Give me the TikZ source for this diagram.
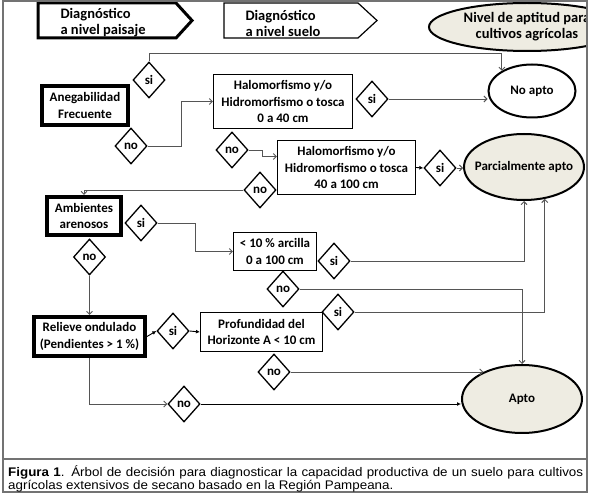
\documentclass[tikz,border=0pt]{standalone}
\usepackage{fontspec}
\setmainfont{Carlito}
\newfontfamily\capfont{Liberation Sans}[FakeStretch=1.07]
\usepackage{tikz}
\usetikzlibrary{arrows.meta, positioning, shapes, calc}

\definecolor{beige}{RGB}{238,236,226}
\definecolor{linkgray}{RGB}{85,85,85}

\tikzset{
  txt/.style={font=\fontsize{13}{16.5}\selectfont\bfseries, align=center},
  hdr/.style={font=\fontsize{14.5}{16}\selectfont\bfseries},
  box/.style={txt, draw, line width=1.2pt, fill=white, inner sep=2pt},
  mainbox/.style={box, line width=4pt},
  dec/.style={txt, diamond, draw, line width=1.3pt, fill=white, inner sep=0pt, minimum width=32pt, minimum height=36pt},
  result/.style={txt, ellipse, draw, line width=2pt, fill=beige, inner sep=0pt},
  link/.style={draw=linkgray, line width=0.9pt, -{Straight Barb[length=3pt,width=6pt]}},
  stub/.style={draw=black, line width=0.9pt, -{Latex[length=4pt,width=4pt]}},
}

\begin{document}
\begin{tikzpicture}[x=1pt, y=-1pt]
    \useasboundingbox (0,0) rectangle (590,497);

    % Headers
    \draw[line width=3pt] (38,3) -- (176,3) -- (192,20.5) -- (176,38) -- (38,38) -- cycle;
    \node[hdr, align=left, anchor=west] (paisaje) at (57,23) {Diagnóstico\\a nivel paisaje};
    \draw[line width=1.2pt] (224,3) -- (358,3) -- (377,20.5) -- (358,38) -- (224,38) -- cycle;
    \node[hdr, align=left, anchor=west] (suelo) at (242,23) {Diagnóstico\\a nivel suelo};
    \begin{scope}
        \clip (3,1) rectangle (587,459);
        \node[result, hdr, align=center, minimum width=196pt, minimum height=48pt] (nivel) at (527,27) {Nivel de aptitud para\\cultivos agrícolas};
    \end{scope}

    % Paisaje
    \node[mainbox, minimum width=86pt, minimum height=39pt] (aneg) at (85,105.5) {Anegabilidad\\Frecuente};
    \node[mainbox, minimum width=74pt, minimum height=38pt] (aren) at (84,216) {Ambientes\\arenosos};
    \node[mainbox, minimum width=111pt, minimum height=39pt] (relieve) at (89.5,336.5) {Relieve ondulado\\(Pendientes > 1 \%)};

    % Suelo
    \node[box, minimum width=139pt, minimum height=54pt] (halo1) at (283,101.5) {Halomorfismo y/o\\Hidromorfismo o tosca\\0 a 40 cm};
    \node[box, minimum width=138pt, minimum height=54pt] (halo2) at (346.5,167.5) {Halomorfismo y/o\\Hidromorfismo o tosca\\40 a 100 cm};
    \node[box, minimum width=83pt, minimum height=38pt] (arcilla) at (275,251.5) {< 10 \% arcilla\\0 a 100 cm};
    \node[box, minimum width=122pt, minimum height=39pt] (prof) at (261.5,332) {Profundidad del\\Horizonte A < 10 cm};

    % Aptitud
    \node[result, fill=white, minimum width=87pt, minimum height=53pt] (noapto) at (532,91) {No apto};
    \node[result, inner xsep=-12pt, minimum width=120pt, minimum height=66pt] (parcial) at (524,167) {Parcialmente apto};
    \node[result, minimum width=120pt, minimum height=68pt] (apto) at (522,399) {Apto};

    % Decisiones
    \node[dec] (siAneg) at (149,80) {si};
    \node[dec] (noAneg) at (131,146) {no};
    \node[dec] (siHalo1) at (372,99) {si};
    \node[dec] (noHalo1) at (232,150) {no};
    \node[dec] (siHalo2) at (440,168) {si};
    \node[dec] (noHalo2) at (260,190) {no};
    \node[dec] (siAren) at (141,223) {si};
    \node[dec] (noAren) at (89.5,257) {no};
    \node[dec] (siArc) at (334,261) {si};
    \node[dec] (noArc) at (283,289) {no};
    \node[dec] (siProf) at (338,312) {si};
    \node[dec] (siRel) at (173,331) {si};
    \node[dec] (noProf) at (274,372) {no};
    \node[dec] (noRel) at (184,404) {no};

    % Conexiones
    \draw[link] (siAneg.north) -- ++(0,-8) -| (noapto.146);
    \draw[link] (noAneg.east) -- ++(34,0) |- (halo1.west);
    \draw[link] (siHalo1.east) -- (siHalo1.east -| noapto.west);
    \draw[link] (noHalo1.east) -- ++(14,0) |- ($(halo2.west)+(0,-11)$);
    \draw[stub] (halo2.east) -- (siHalo2.west);
    \draw[link] (siHalo2.east) -- (siHalo2.east -| parcial.west);
    \draw[link] (noHalo2.west) -| (aren.north);
    \draw[link] (siAren.east) -- ++(38,0) |- (arcilla.west);
    \draw[link] (noAren.south) -- (relieve.north);
    \draw[link] (siArc.east) -| (parcial.south);
    \draw[link] (noArc.east) -| (apto.north);
    \draw[link] (siProf.east) -| (parcial.-57);
    \draw[stub] (relieve.east) -- (siRel.west);
    \draw[stub] (siRel.east) -- (prof.west);
    \draw[link] (noProf.east) -- (noProf.east -| apto.145);
    \draw[link] (relieve.south) |- (noRel.west);
    \draw[stub] (noRel.east) -- (noRel.east -| apto.west);

    % Marco y leyenda
    \draw[black!55, line width=1.5pt] (3,1) rectangle (587,459);
    \draw[black!55, line width=1.5pt] (3,459) rectangle (587,492);
    \node[anchor=north west, text width=575pt, inner sep=0pt, align=justify, font=\capfont\fontsize{12.5}{13.5}\selectfont] (leyenda) at (8,465) {\hyphenpenalty=10000\relax\textbf{Figura 1}. Árbol de decisión para diagnosticar la capacidad productiva de un suelo para cultivos\linebreak agrícolas extensivos de secano basado en la Región Pampeana.};
\end{tikzpicture}
\end{document}
